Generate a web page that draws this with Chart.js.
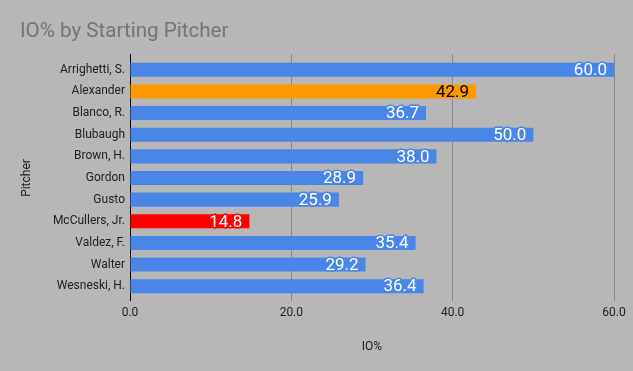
<!DOCTYPE html>
<html>
<head>
<meta charset="utf-8">
<script src="https://cdn.jsdelivr.net/npm/chart.js@4/dist/chart.umd.min.js"></script>
<style>
  html, body { margin: 0; padding: 0; background: #b7b7b7; }
  canvas { display: block; }
</style>
</head>
<body>
<canvas id="c" width="633" height="371"></canvas>
<script>
const categories = ["Arrighetti, S.", "Alexander", "Blanco, R.", "Blubaugh", "Brown, H.", "Gordon", "Gusto", "McCullers, Jr.", "Valdez, F.", "Walter", "Wesneski, H."];
const ioPct = [60.0, 42.9, 36.7, 50.0, 38.0, 28.9, 25.9, 14.8, 35.4, 29.2, 36.4];
const xTickValues = [0, 20, 40, 60];
const chartTitle = "IO% by Starting Pitcher";
const xTitle = "IO%";
const yTitle = "Pitcher";

const BLUE = "#4a86e8", ORANGE = "#ff9900", RED = "#ff0000";
const highlight = { "Alexander": ORANGE, "McCullers, Jr.": RED };
const barColors = categories.map(c => highlight[c] || BLUE);
const labelColors = categories.map(c => c === "Alexander" ? "#000000" : "#ffffff");

const bgPlugin = {
  id: "bg",
  beforeDraw(chart) {
    const ctx = chart.ctx;
    ctx.save();
    ctx.fillStyle = "#b7b7b7";
    ctx.fillRect(0, 0, chart.width, chart.height);
    ctx.restore();
  }
};

const valueLabels = {
  id: "valueLabels",
  afterDatasetsDraw(chart) {
    const ctx = chart.ctx;
    const meta = chart.getDatasetMeta(0);
    ctx.save();
    ctx.font = "17px Roboto";
    ctx.textAlign = "right";
    ctx.textBaseline = "middle";
    ctx.lineJoin = "round";
    meta.data.forEach((bar, i) => {
      const txt = ioPct[i].toFixed(1);
      const x = bar.x - 7;
      const y = bar.y + 1;
      if (labelColors[i] === "#ffffff") {
        ctx.lineWidth = 3;
        ctx.strokeStyle = barColors[i];
        ctx.strokeText(txt, x, y);
      }
      ctx.fillStyle = labelColors[i];
      ctx.fillText(txt, x, y);
    });
    ctx.restore();
  }
};

const gridColor = ctx => (ctx.tick && ctx.tick.value === 0) ? "#000000" : "#888888";

new Chart(document.getElementById("c"), {
  type: "bar",
  data: {
    labels: categories,
    datasets: [{
      data: ioPct,
      backgroundColor: barColors,
      borderWidth: 0,
      barPercentage: 0.65,
      categoryPercentage: 1.0
    }]
  },
  options: {
    indexAxis: "y",
    responsive: false,
    animation: false,
    devicePixelRatio: 1,
    layout: { padding: { left: 20, right: 19, top: 0, bottom: 0 } },
    plugins: {
      legend: { display: false },
      tooltip: { enabled: false },
      title: {
        display: true,
        text: chartTitle,
        align: "start",
        color: "#757575",
        font: { family: "Roboto", size: 20.6, weight: "normal", lineHeight: 1.2 },
        padding: { top: 19.6, bottom: 9.68 }
      }
    },
    scales: {
      x: {
        type: "linear",
        position: "bottom",
        min: 0, max: 60,
        afterBuildTicks: s => { s.ticks = xTickValues.map(v => ({ value: v })); },
        afterFit: s => { s.height = 74; },
        grid: { color: gridColor, lineWidth: 1, drawTicks: true, tickLength: 4 },
        border: { display: false },
        ticks: {
          padding: 5,
          color: "#222222",
          font: { family: "Roboto", size: 12 },
          callback: v => Number(v).toFixed(1)
        },
        title: {
          display: true,
          text: xTitle,
          color: "#222222",
          font: { family: "Roboto", size: 12 },
          padding: { top: 0, bottom: 17 }
        }
      },
      xTop: {
        type: "linear",
        position: "top",
        min: 0, max: 60,
        afterBuildTicks: s => { s.ticks = xTickValues.map(v => ({ value: v })); },
        afterFit: s => { s.height = 5; },
        grid: { color: gridColor, lineWidth: 1, drawOnChartArea: false, drawTicks: true, tickLength: 5 },
        border: { display: false },
        ticks: { display: false }
      },
      y: {
        type: "category",
        position: "left",
        afterFit: s => { s.width = 110; },
        grid: { display: false, drawTicks: false },
        border: { display: false },
        ticks: {
          padding: 5,
          color: "#222222",
          font: { family: "Roboto", size: 12 }
        },
        title: {
          display: true,
          text: yTitle,
          color: "#222222",
          font: { family: "Roboto", size: 12 },
          padding: { top: 0, bottom: 0 }
        }
      }
    }
  },
  plugins: [bgPlugin, valueLabels]
});
</script>
</body>
</html>
